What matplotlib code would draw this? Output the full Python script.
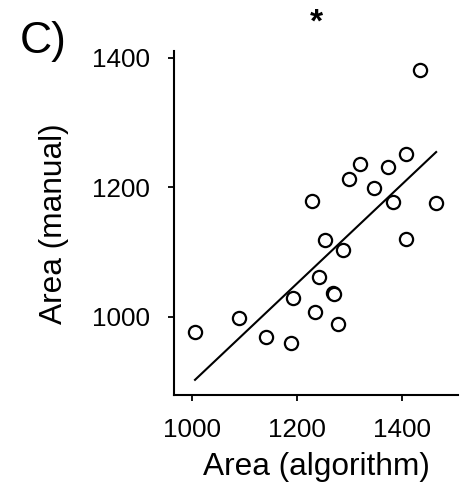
import numpy as np
import matplotlib
matplotlib.use('Agg')
import matplotlib.pyplot as plt

plt.rcParams['font.family'] = ['Liberation Sans', 'DejaVu Sans']

# values
area_algorithm = [1435, 1407, 1320, 1374, 1300, 1346, 1228, 1383, 1465,
                  1408, 1253, 1288, 1242, 1268, 1270, 1192, 1234, 1090,
                  1279, 1006, 1141, 1189]
area_manual = [1381, 1251, 1236, 1231, 1213, 1199, 1179, 1177, 1176,
               1120, 1119, 1103, 1062, 1036, 1035, 1029, 1007, 998,
               989, 977, 968, 960]

x_ticks = [1000, 1200, 1400]
y_ticks = [1000, 1200, 1400]

fig = plt.figure(figsize=(4.69, 4.95), dpi=100)
ax = fig.add_axes([0.371, 0.202, 0.606, 0.694])

ax.plot(area_algorithm, area_manual, 'o', mfc='white', mec='black',
        mew=1.6, ms=9.5, zorder=3)

# least squares line over the data range
x = np.array(area_algorithm)
y = np.array(area_manual)
slope, intercept = np.polyfit(x, y, 1)
xs = np.array([x.min(), x.max()])
ax.plot(xs, slope * xs + intercept, color='black', lw=1.5)

ax.set_xlim(966, 1507)
ax.set_ylim(879, 1410)
ax.set_xticks(x_ticks)
ax.set_yticks(y_ticks)

for s in ['top', 'right']:
    ax.spines[s].set_visible(False)
for s in ['left', 'bottom']:
    ax.spines[s].set_linewidth(1.5)

ax.tick_params(axis='both', direction='out', length=4.5, width=1.3, labelsize=18.7)
ax.tick_params(axis='x', pad=12)
ax.tick_params(axis='y', pad=13)

ax.set_xlabel('Area (algorithm)', fontsize=22.8, labelpad=7)
ax.set_ylabel('Area (manual)', fontsize=22.8, labelpad=16)
ax.set_title('*', fontsize=24, fontweight='bold', pad=14)

fig.text(0.043, 0.893, 'C)', fontsize=32)

fig.savefig('out.png', dpi=100)
